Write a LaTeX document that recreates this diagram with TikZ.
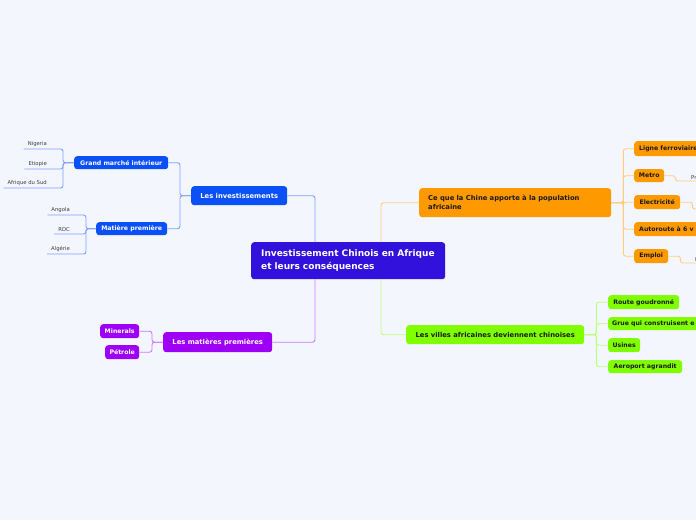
\documentclass[tikz,border=0pt]{standalone}
\usepackage{fontspec}
\setmainfont{DejaVu Sans}
\usetikzlibrary{calc}
\definecolor{bg}{HTML}{F4F6FE}
\definecolor{cenc}{HTML}{3311DD}
\definecolor{bluec}{HTML}{0B4FF7}
\definecolor{orc}{HTML}{FF9900}
\definecolor{grc}{HTML}{80FF00}
\definecolor{puc}{HTML}{9E00F5}
\definecolor{bl}{HTML}{7F9FFF}
\definecolor{ol}{HTML}{FFCB80}
\definecolor{gl}{HTML}{BCFF78}
\definecolor{pl}{HTML}{C97AFF}
\definecolor{txt}{HTML}{1A1A1A}
\tikzset{
  box/.style={rounded corners=3pt, inner xsep=3pt, inner ysep=0pt, anchor=north west},
  cenbox/.style={box, fill=cenc, text=white, font=\bfseries\fontsize{9}{12.5}\selectfont},
  mainw/.style={box, text=white, font=\bfseries\fontsize{6.8}{8}\selectfont},
  maind/.style={box, text=txt, font=\bfseries\fontsize{6.8}{9}\selectfont},
  kidw/.style={box, text=white, font=\bfseries\fontsize{6.2}{7}\selectfont},
  kidd/.style={box, text=txt, font=\bfseries\fontsize{6.2}{7}\selectfont},
  leaf/.style={inner xsep=4pt, inner ysep=1.8pt, text=txt!85, font=\fontsize{5.3}{6}\selectfont},
  conn/.style={line width=0.9pt, rounded corners=2.5pt},
  bline/.style={conn, draw=bl},
  oline/.style={conn, draw=ol},
  gline/.style={conn, draw=gl},
  pline/.style={conn, draw=pl},
}
\begin{document}
\begin{tikzpicture}[x=1pt,y=-1pt]
\fill[bg] (0,0) rectangle (696,520);
\useasboundingbox (0,0) rectangle (696,520);
\begin{scope}
\clip (0,0) rectangle (696,520);
% central
\node[cenbox, minimum width=194pt, minimum height=37pt, inner xsep=10pt, text width=174pt, align=left] (cen) at (251,242) {Investissement Chinois en Afrique\\et leurs conséquences};
% blue branch
\node[mainw, fill=bluec, minimum width=96pt, minimum height=19pt] (inv) at (191,186) {Les investissements};
\node[kidw, fill=bluec, minimum width=94pt, minimum height=13pt] (gm) at (74,156) {Grand marché intérieur};
\node[kidw, fill=bluec, minimum width=71pt, minimum height=13pt] (mp) at (96,222) {Matière première};
\node[leaf, anchor=south east] (nig) at (51,149) {Nigeria};
\node[leaf, anchor=south east] (eti) at (51,169) {Etiopie};
\node[leaf, anchor=south east] (afs) at (51,188) {Afrique du Sud};
\node[leaf, anchor=south east] (ang) at (74,215) {Angola};
\node[leaf, anchor=south east] (rdc) at (74,234) {RDC};
\node[leaf, anchor=south east] (alg) at (74,254) {Algérie};
% purple branch
\node[mainw, fill=puc, minimum width=109pt, minimum height=20pt] (matp) at (163,332) {Les matières premières};
\node[kidw, fill=puc, minimum width=39pt, minimum height=14pt] (min) at (100,324) {Minerals};
\node[kidw, fill=puc, minimum width=34pt, minimum height=14pt] (pet) at (105,345) {Pétrole};
% orange branch
\node[maind, fill=orc, minimum width=192pt, minimum height=29pt, inner xsep=9pt, text width=174pt, align=left] (ceque) at (419,188) {Ce que la Chine apporte à la population\\africaine};
\node[kidd, fill=orc, minimum height=15pt, inner xsep=5pt] (lig) at (634,141) {Ligne ferroviaire};
\node[kidd, fill=orc, minimum width=30pt, minimum height=13pt] (metro) at (634,169) {Metro};
\node[kidd, fill=orc, minimum width=46pt, minimum height=14pt] (elec) at (634,195) {Electricité};
\node[kidd, fill=orc, minimum height=14pt, inner xsep=5pt] (auto) at (634,222) {Autoroute à 6 v};
\node[kidd, fill=orc, minimum width=34pt, minimum height=14pt] (emploi) at (634,249) {Emploi};
\node[leaf, anchor=south west] (pr) at (687,181) {Pr};
\node[leaf, anchor=south west] (em) at (691,263) {E};
\coordinate (elx) at (700,209);
% green branch
\node[maind, fill=grc, minimum width=178pt, minimum height=19pt] (villes) at (406,325) {Les villes africaines deviennent chinoises};
\node[kidd, fill=grc, minimum width=71pt, minimum height=14pt] (route) at (608,295) {Route goudronné};
\node[kidd, fill=grc, minimum height=13pt, inner xsep=4pt] (grue) at (608,317) {Grue qui construisent e};
\node[kidd, fill=grc, minimum width=32pt, minimum height=14pt] (usines) at (608,338) {Usines};
\node[kidd, fill=grc, minimum width=74pt, minimum height=13pt] (aero) at (608,360) {Aeroport agrandit};
% connectors central
\draw[bline] (inv.east) -| ($(cen.north west)+(64,0)$);
\draw[oline] ($(cen.north west)+(130,0)$) |- (ceque.west);
\draw[gline] ($(cen.south west)+(130,0)$) |- (villes.west);
\draw[pline] ($(cen.south west)+(64,0)$) |- (matp.east);
% blue
\draw[bline] (inv.west) -- ++(-11,0) |- (gm.east);
\draw[bline] (inv.west) -- ++(-11,0) |- (mp.east);
\draw[bline] (gm.west) -- ++(-11,0) |- (nig.south east) -- (nig.south west);
\draw[bline] (gm.west) -- ++(-11,0) |- (eti.south east) -- (eti.south west);
\draw[bline] (gm.west) -- ++(-11,0) |- (afs.south east) -- (afs.south west);
\draw[bline] (mp.west) -- ++(-10,0) |- (ang.south east) -- (ang.south west);
\draw[bline] (mp.west) -- ++(-10,0) |- (rdc.south east) -- (rdc.south west);
\draw[bline] (mp.west) -- ++(-10,0) |- (alg.south east) -- (alg.south west);
% purple
\draw[pline] (matp.west) -- ++(-11,0) |- (min.east);
\draw[pline] (matp.west) -- ++(-11,0) |- (pet.east);
% orange
\foreach \k in {lig,metro,elec,auto,emploi}{
  \draw[oline] (ceque.east) -- ++(12,0) |- (\k.west);
}
\draw[oline] (metro.east) -- ++(11,0) |- (pr.south west) -- (pr.south east);
\draw[oline] (elec.east) -- ++(12,0) |- (elx);
\draw[oline] (emploi.east) -- ++(12,0) |- (em.south west) -- (em.south east);
% green
\foreach \k in {route,grue,usines,aero}{
  \draw[gline] (villes.east) -- ++(12,0) |- (\k.west);
}
\end{scope}
\end{tikzpicture}
\end{document}
